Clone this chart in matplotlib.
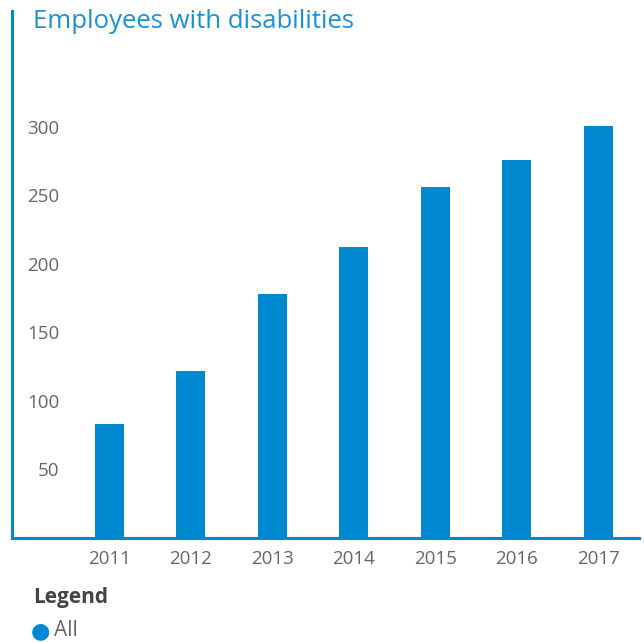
import numpy as np
import matplotlib.pyplot as plt

years = ['2011', '2012', '2013', '2014', '2015', '2016', '2017']
employees = [83, 122, 178, 212, 256, 276, 301]
yticks = [50, 100, 150, 200, 250, 300]

BLUE = '#0089d1'
TITLE_BLUE = '#1a90d6'
GREY = '#666666'

plt.rcParams['font.family'] = ['Open Sans', 'DejaVu Sans']

W, H = 644, 642
fig = plt.figure(figsize=(W / 100, H / 100), dpi=100)
left, right, top, bottom = 12, 639, 11, 537.5
ax = fig.add_axes([left / W, 1 - bottom / H, (right - left) / W, (bottom - top) / H])

x = np.arange(len(years))
ax.bar(x, employees, width=0.356, color=BLUE, zorder=2)

ax.set_xlim(-1.196, 6.497)
ax.set_ylim(0, (bottom - top) / 1.368)

ax.set_xticks(x)
ax.set_xticklabels(years)
ax.set_yticks(yticks)
ax.set_yticklabels([str(v) for v in yticks])
ax.tick_params(axis='both', length=0, labelsize=13.5, colors=GREY)
ax.tick_params(axis='y', pad=-34)
ax.tick_params(axis='x', pad=9)
for lbl in ax.get_yticklabels():
    lbl.set_horizontalalignment('right')

for side in ('top', 'right'):
    ax.spines[side].set_visible(False)
for side in ('left', 'bottom'):
    ax.spines[side].set_color(BLUE)
    ax.spines[side].set_linewidth(2.2)

fig.text(33 / W, 1 - 21 / H, 'Employees with disabilities', color=TITLE_BLUE,
         fontsize=18.5, va='center', ha='left')
fig.text(33 / W, 1 - 597 / H, 'Legend', color='#444444', fontsize=15,
         fontweight='bold', va='center', ha='left')
fig.text(40.5 / W, 1 - 631 / H, '\u25cf', color=BLUE, fontsize=16,
         va='center', ha='center', family='DejaVu Sans')
fig.text(54 / W, 1 - 631 / H, 'All', color=GREY, fontsize=15,
         va='center', ha='left')

fig.savefig('out.png', dpi=100)
